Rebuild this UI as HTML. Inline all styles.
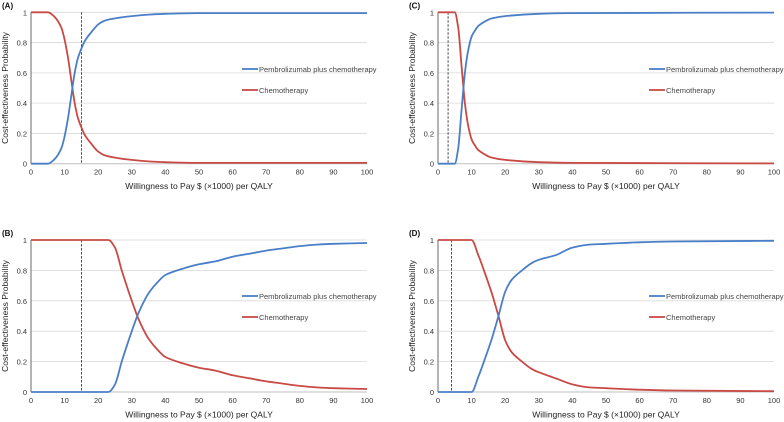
<!DOCTYPE html>
<html><head><meta charset="utf-8"><style>
html,body{margin:0;padding:0;background:#fff;}
svg{display:block;font-family:"Liberation Sans",Arial,sans-serif;}
</style></head><body>
<svg id="chart" width="784" height="422" viewBox="0 0 784 422" xmlns="http://www.w3.org/2000/svg"></svg>
<script>
const xTicks=[0,10,20,30,40,50,60,70,80,90,100];
const yTicks=[0,0.2,0.4,0.6,0.8,1];
const yTickLabels=["0","0.2","0.4","0.6","0.8","1"];
const seriesNames=["Pembrolizumab plus chemotherapy","Chemotherapy"];
const panelLabels=["(A)","(B)","(C)","(D)"];
const thresholds=[15,15,3,4];
const aX=[0,5,7,9,10,11,12,13,14,15,16,18,20,22,25,30,35,40,50,100];
const aPembro=[0,0,0.03,0.1,0.18,0.3,0.45,0.6,0.7,0.76,0.81,0.87,0.92,0.945,0.96,0.975,0.985,0.99,0.995,0.995];
const aChemo=[1,1,0.97,0.9,0.82,0.7,0.55,0.4,0.3,0.24,0.19,0.13,0.08,0.055,0.04,0.025,0.015,0.01,0.005,0.005];
const bX=[0,23,25,27,30,32,35,38,40,45,50,55,60,65,70,75,80,85,90,100];
const bPembro=[0,0,0.05,0.2,0.4,0.52,0.65,0.73,0.77,0.81,0.84,0.86,0.89,0.91,0.93,0.945,0.96,0.97,0.975,0.98];
const bChemo=[1,1,0.95,0.8,0.6,0.48,0.35,0.27,0.23,0.19,0.16,0.14,0.11,0.09,0.07,0.055,0.04,0.03,0.025,0.02];
const cX=[0,5,6,7,8,9,10,11,12,14,16,20,30,40,100];
const cPembro=[0,0,0.1,0.35,0.6,0.75,0.84,0.88,0.91,0.94,0.96,0.975,0.99,0.995,0.998];
const cChemo=[1,1,0.9,0.65,0.4,0.25,0.16,0.12,0.09,0.06,0.04,0.025,0.01,0.005,0.002];
const dX=[0,10,12,14,16,18,20,22,25,28,30,35,40,45,50,55,60,70,100];
const dPembro=[0,0,0.1,0.22,0.35,0.5,0.66,0.74,0.8,0.85,0.87,0.9,0.95,0.97,0.975,0.98,0.985,0.99,0.995];
const dChemo=[1,1,0.9,0.78,0.65,0.5,0.34,0.26,0.2,0.15,0.13,0.09,0.05,0.03,0.025,0.02,0.015,0.01,0.005];
const panels=[
 {x0:31,x1:367,yTop:12.3,yBot:163.7,xs:aX,p:aPembro,c:aChemo,legX:242,legY:69},
 {x0:31,x1:367,yTop:240,yBot:392,xs:bX,p:bPembro,c:bChemo,legX:242,legY:296},
 {x0:438,x1:774,yTop:12.3,yBot:163.7,xs:cX,p:cPembro,c:cChemo,legX:649,legY:69},
 {x0:438,x1:774,yTop:240,yBot:392,xs:dX,p:dPembro,c:dChemo,legX:649,legY:296}
];
const NS="http://www.w3.org/2000/svg";
const svg=document.getElementById('chart');
function mk(tag,attrs,parent){const e=document.createElementNS(NS,tag);for(const k in attrs)e.setAttribute(k,attrs[k]);(parent||svg).appendChild(e);return e;}
function monoPath(px,py){
 const n=px.length,d=[],m=[];
 for(let i=0;i<n-1;i++)d.push((py[i+1]-py[i])/(px[i+1]-px[i]));
 m[0]=d[0];m[n-1]=d[n-2];
 for(let i=1;i<n-1;i++)m[i]=(d[i-1]*d[i]<=0)?0:2/(1/d[i-1]+1/d[i]);
 let s='M'+px[0].toFixed(1)+','+py[0].toFixed(1);
 for(let i=0;i<n-1;i++){const h=(px[i+1]-px[i])/3;
  s+=' C'+(px[i]+h).toFixed(1)+','+(py[i]+m[i]*h).toFixed(1)+' '+(px[i+1]-h).toFixed(1)+','+(py[i+1]-m[i+1]*h).toFixed(1)+' '+px[i+1].toFixed(1)+','+py[i+1].toFixed(1);}
 return s;
}
panels.forEach((P,i)=>{
 const g=mk('g',{});
 
 
 const sx=v=>P.x0+(v/100)*(P.x1-P.x0);
 const sy=v=>P.yBot-v*(P.yBot-P.yTop);
 yTicks.forEach((t,k)=>{
  if(t>0){const gl=mk('line',{x1:P.x0,x2:P.x1,y1:sy(t),y2:sy(t),stroke:'#d9d9d9','stroke-width':0.8},g);
   }
  const tl=mk('text',{x:P.x0-4,y:sy(t)+3,'text-anchor':'end','font-size':7.5,fill:'#333'},g);
  tl.textContent=yTickLabels[k];
  
 });
 xTicks.forEach(t=>{
  const tl=mk('text',{x:sx(t),y:P.yBot+11,'text-anchor':'middle','font-size':7.5,fill:'#333'},g);
  tl.textContent=t;
  
 });
 const ax=mk('line',{x1:P.x0,x2:P.x1,y1:P.yBot,y2:P.yBot,stroke:'#bfbfbf','stroke-width':1},g);
 
 const ay=mk('line',{x1:P.x0,x2:P.x0,y1:P.yTop,y2:P.yBot,stroke:'#444','stroke-width':0.8},g);
 
 const th=mk('line',{x1:sx(thresholds[i]),x2:sx(thresholds[i]),y1:P.yTop,y2:P.yBot,stroke:'#222','stroke-width':0.8,'stroke-dasharray':'2.5,1.5'},g);
 
 [[P.c,'#c94a45','chemotherapy-curve'],[P.p,'#4a7fc8','pembrolizumab-curve']].forEach(([vals,col,nm])=>{
  const px=P.xs.map(sx),py=vals.map(sy);
  const pl=mk('path',{d:monoPath(px,py),fill:'none',stroke:col,'stroke-width':1.8,'stroke-linejoin':'round'},g);
  
 });
 [[seriesNames[0],'#4a7fc8',P.legY],[seriesNames[1],'#c94a45',P.legY+21]].forEach(([n,col,y],k)=>{
  const lg=mk('g',{},g);
  
  
  mk('line',{x1:P.legX,x2:P.legX+16,y1:y,y2:y,stroke:col,'stroke-width':1.8},lg);
  const t=mk('text',{x:P.legX+17,y:y+2.8,'font-size':7.5,fill:'#444'},lg);t.textContent=n;
 });
 const xl=mk('text',{x:(P.x0+P.x1)/2,y:P.yBot+25.5,'text-anchor':'middle','font-size':8.5,fill:'#222'},g);
 xl.textContent='Willingness to Pay $ (\u00d71000) per QALY';
 
 const yx=P.x0-23,yc=(P.yTop+P.yBot)/2;
 const yl=mk('text',{x:yx,y:yc,'text-anchor':'middle','font-size':8.5,fill:'#222',transform:'rotate(-90 '+yx+' '+yc+')'},g);
 yl.textContent='Cost-effectiveness Probability';
 
 const pl=mk('text',{x:P.x0-29,y:P.yTop-4,'font-size':8,'font-weight':'bold',fill:'#111'},g);
 pl.textContent=panelLabels[i];
 
});
</script>
</body></html>
